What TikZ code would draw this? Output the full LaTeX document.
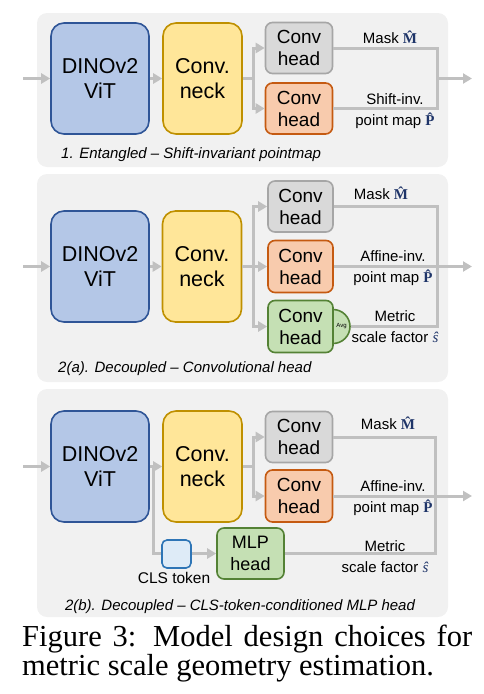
\documentclass[tikz,border=0pt]{standalone}
\usepackage{fontspec}
\setmainfont{Liberation Serif}
\newfontfamily\arialf{Liberation Sans}
\newfontfamily\timesf{Liberation Serif}
\usetikzlibrary{arrows.meta}
\definecolor{bgc}{HTML}{F1F1F1}
\definecolor{dinof}{HTML}{B4C7E7}
\definecolor{dinod}{HTML}{2F5597}
\definecolor{neckf}{HTML}{FFE699}
\definecolor{neckd}{HTML}{BF9000}
\definecolor{grayf}{HTML}{D9D9D9}
\definecolor{grayd}{HTML}{A6A6A6}
\definecolor{orangef}{HTML}{F8CBAD}
\definecolor{oranged}{HTML}{C55A11}
\definecolor{greenf}{HTML}{C5E0B4}
\definecolor{greend}{HTML}{548235}
\definecolor{clsf}{HTML}{DEEBF7}
\definecolor{clsd}{HTML}{2E75B6}
\definecolor{linec}{HTML}{C0C0C0}
\definecolor{mathc}{HTML}{1F3569}
\newcommand{\Mhat}{{\color{mathc}\timesf\bfseries M̂}}
\newcommand{\Phat}{{\color{mathc}\timesf\bfseries P̂}}
\newcommand{\shat}{{\color{mathc}\timesf\itshape ŝ}}
\begin{document}
\begin{tikzpicture}[x=1pt,y=-1pt,
  panel/.style={fill=bgc, rounded corners=10pt},
  box/.style={draw, line width=1.6pt, rounded corners=7pt, inner sep=0pt, align=center, font=\arialf\fontsize{19}{22}\selectfont},
  big/.style={box, rounded corners=13pt, font=\arialf\fontsize{21.5}{25}\selectfont},
  dino/.style={big, fill=dinof, draw=dinod, minimum width=98pt, minimum height=111pt},
  neck/.style={big, fill=neckf, draw=neckd, minimum width=79pt, minimum height=111pt},
  ghead/.style={box, fill=grayf, draw=grayd, minimum width=67pt, minimum height=51pt},
  ohead/.style={box, fill=orangef, draw=oranged, minimum width=67pt, minimum height=51pt},
  grhead/.style={box, fill=greenf, draw=greend, minimum width=67pt, minimum height=51pt},
  ln/.style={draw=linec, line width=3pt},
  arr/.style={ln, -{Triangle[length=9pt,width=10pt]}},
  lab/.style={font=\arialf\fontsize{15}{21}\selectfont, align=center, inner sep=0pt},
  pcap/.style={font=\arialf\itshape\fontsize{15}{18}\selectfont, inner sep=0pt}
]
\useasboundingbox (0,0) rectangle (484,694);

% ---------------- Panel 1 ----------------
\fill[panel] (37,13) rectangle (448,167);
\node[dino] (d1) at (100,78.5) {DINOv2\\ViT};
\node[neck] (n1) at (202.5,78.5) {Conv.\\neck};
\node[ghead] (a1) at (299,48) {Conv\\head};
\node[ohead] (b1) at (299,108.5) {Conv\\head};
\coordinate (in1) at (23,78.5);
\coordinate (j1) at (253,78.5);
\coordinate (o1) at (437,78.5);
\coordinate (out1) at (472,78.5);
\draw[arr] (in1) -- (d1.west);
\draw[arr] (d1.east) -- (n1.west);
\draw[ln] (n1.east) -- (j1);
\draw[arr] (j1) |- (a1.west);
\draw[arr] (j1) |- (b1.west);
\draw[ln] (a1.east) -| (o1) |- (b1.east);
\draw[arr] (o1) -- (out1);
\node[lab] (l1a) at (390,37) {Mask \Mhat};
\node[lab] (l1b) at (395,111) {Shift-inv.\\point map \Phat};
\node[pcap, anchor=west] (c1) at (61,155) {1. Entangled – Shift-invariant pointmap};

% ---------------- Panel 2 ----------------
\fill[panel] (37,174) rectangle (448,382);
\node[dino] (d2) at (100,266.5) {DINOv2\\ViT};
\node[neck] (n2) at (202,266.5) {Conv.\\neck};
\node[ghead, minimum width=65pt] (a2) at (300.5,206.5) {Conv\\head};
\node[ohead, minimum width=65pt, minimum height=52pt] (b2) at (300.5,266.5) {Conv\\head};
\node[circle, draw=greend, fill=greenf, line width=1.6pt, minimum size=34pt, inner sep=0pt] (avg) at (333,326.5) {};
\node[grhead, minimum width=65pt, minimum height=52pt] (c2) at (300.5,326.5) {Conv\\head};
\node[font=\arialf\fontsize{6}{7}\selectfont, inner sep=0pt] (avgt) at (341.5,326.5) {Avg};
\coordinate (in2) at (23,266.5);
\coordinate (j2) at (253,266.5);
\coordinate (o2) at (437,266.5);
\coordinate (out2) at (472,266.5);
\draw[arr] (in2) -- (d2.west);
\draw[arr] (d2.east) -- (n2.west);
\draw[ln] (n2.east) -- (j2);
\draw[arr] (j2) |- (a2.west);
\draw[arr] (j2) -- (b2.west);
\draw[arr] (j2) |- (c2.west);
\draw[ln] (a2.east) -| (o2) |- (avg.east);
\draw[arr] (b2.east) -- (out2);
\node[lab] (l2a) at (381,193) {Mask \Mhat};
\node[lab] (l2b) at (393,268) {Affine-inv.\\point map \Phat};
\node[lab] (l2c) at (395,327) {Metric\\scale factor \shat};
\node[pcap, anchor=west] (c2t) at (58,369) {2(a). Decoupled – Convolutional head};

% ---------------- Panel 3 ----------------
\fill[panel] (37,389) rectangle (448,617);
\node[dino] (d3) at (100,466.5) {DINOv2\\ViT};
\node[neck] (n3) at (202.5,466.5) {Conv.\\neck};
\node[ghead] (a3) at (299,437) {Conv\\head};
\node[ohead, minimum height=52pt] (b3) at (299,496) {Conv\\head};
\node[grhead, minimum width=67pt, font=\arialf\fontsize{18}{21.5}\selectfont] (m3) at (250.5,553.5) {MLP\\head};
\coordinate (in3) at (23,466.5);
\coordinate (br3) at (153,466.5);
\coordinate (j3) at (253,466.5);
\coordinate (o3) at (435,496);
\coordinate (out3) at (472,496);
\draw[arr] (in3) -- (d3.west);
\draw[arr] (d3.east) -- (n3.west);
\draw[arr] (br3) |- (m3.west);
\node[box, fill=clsf, draw=clsd, rounded corners=5pt, minimum width=29pt, minimum height=28pt] (cls) at (176.5,554) {};
\node[lab, font=\arialf\fontsize{15.5}{18}\selectfont] (clst) at (174,578) {CLS token};
\draw[ln] (n3.east) -- (j3);
\draw[arr] (j3) |- (a3.west);
\draw[arr] (j3) |- (b3.west);
\draw[ln] (a3.east) -| (o3) |- (m3.east);
\draw[arr] (b3.east) -- (out3);
\node[lab] (l3a) at (388,423) {Mask \Mhat};
\node[lab] (l3b) at (393,498) {Affine-inv.\\point map \Phat};
\node[lab] (l3c) at (385,557) {Metric\\scale factor \shat};
\node[pcap] (c3t) at (240,607) {2(b). Decoupled – CLS-token-conditioned MLP head};

% ---------------- Figure caption ----------------
\node[anchor=base west, inner sep=0pt, font=\fontsize{30.5}{28}\selectfont] (fc1) at (22,646) {\makebox[450pt][s]{Figure 3: Model design choices for}};
\node[anchor=base west, inner sep=0pt, font=\fontsize{30.5}{28}\selectfont] (fc2) at (22,675) {metric scale geometry estimation.};
\end{tikzpicture}
\end{document}
